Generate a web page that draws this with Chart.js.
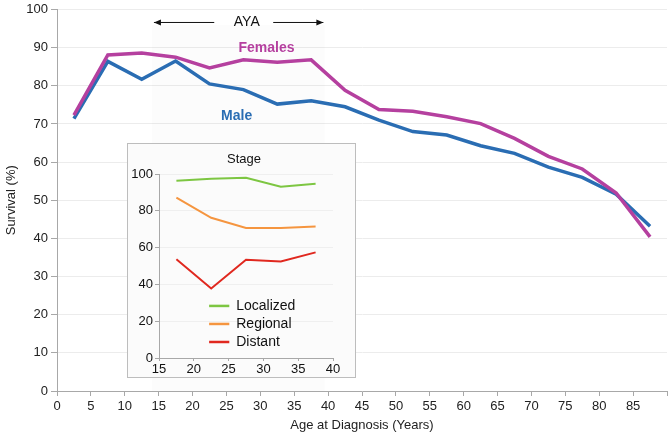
<!DOCTYPE html>
<html>
<head>
<meta charset="utf-8">
<script src="https://cdn.jsdelivr.net/npm/chart.js@4.4.0/dist/chart.umd.min.js"></script>
<style>
html, body { margin: 0; padding: 0; background: #fff; }
#wrap { position: relative; width: 670px; height: 437px; }
#inset { position: absolute; left: 127px; top: 143px; width: 229px; height: 235px; border: 1px solid #bdbdbd; background: #fbfbfb; box-sizing: border-box; }
</style>
</head>
<body>
<div id="wrap">
  <canvas id="mainChart" width="670" height="437"></canvas>
  <div id="inset"><canvas id="insetChart" width="227" height="233"></canvas></div>
</div>
<script>
// main chart data
const ageMid = [2.5, 7.5, 12.5, 17.5, 22.5, 27.5, 32.5, 37.5, 42.5, 47.5, 52.5, 57.5, 62.5, 67.5, 72.5, 77.5, 82.5, 87.5];
const females = [72.3, 88.1, 88.6, 87.5, 84.7, 86.8, 86.2, 86.8, 78.8, 73.8, 73.3, 71.9, 70.1, 66.2, 61.5, 58.2, 51.9, 40.4];
const males = [71.4, 86.4, 81.7, 86.5, 80.5, 79.0, 75.2, 76.1, 74.5, 71.0, 68.0, 67.1, 64.3, 62.3, 58.7, 56.0, 51.6, 43.2];

// inset data (AYA by stage)
const stageAges = [17.5, 22.5, 27.5, 32.5, 37.5];
const localized = [96.3, 97.4, 98.0, 93.1, 94.7];
const regional = [87.2, 76.2, 70.7, 70.7, 71.5];
const distant = [53.7, 37.8, 53.4, 52.5, 57.4];

const FONT = 'Liberation Sans, Arial, Helvetica, sans-serif';
const pts = (xs, ys) => xs.map((x, i) => ({ x: x, y: ys[i] }));

// text labels + AYA arrows on the main chart
const mainNotes = {
    id: 'mainNotes',
    beforeDatasetsDraw(chart) {
        const { ctx, scales: { x, y } } = chart;
        ctx.save();
        ctx.fillStyle = 'rgba(0,0,0,0.012)';
        ctx.fillRect(x.getPixelForValue(14), y.getPixelForValue(96), x.getPixelForValue(39.5) - x.getPixelForValue(14), y.getPixelForValue(0) - y.getPixelForValue(96));
        ctx.restore();
    },
    afterDatasetsDraw(chart) {
        const { ctx, scales: { x, y } } = chart;
        ctx.save();
        ctx.textAlign = 'center';
        ctx.textBaseline = 'middle';
        ctx.font = 'bold 14px ' + FONT;
        ctx.fillStyle = '#b5409f';
        ctx.fillText('Females', x.getPixelForValue(30.9), y.getPixelForValue(89.8));
        ctx.fillStyle = '#2a6db3';
        ctx.fillText('Male', x.getPixelForValue(26.5), y.getPixelForValue(72.1));
        ctx.font = '14px ' + FONT;
        ctx.fillStyle = '#111';
        const ay = y.getPixelForValue(96.6);
        ctx.fillText('AYA', x.getPixelForValue(28), ay);
        ctx.strokeStyle = '#111';
        ctx.lineWidth = 1;
        const arrow = (from, to) => {
            const x0 = x.getPixelForValue(from), x1 = x.getPixelForValue(to);
            const d = x1 > x0 ? 1 : -1;
            ctx.beginPath();
            ctx.moveTo(x0, ay); ctx.lineTo(x1, ay); ctx.stroke();
            ctx.beginPath();
            ctx.moveTo(x1, ay); ctx.lineTo(x1 - d * 7, ay - 3); ctx.lineTo(x1 - d * 7, ay + 3);
            ctx.closePath(); ctx.fill();
        };
        arrow(23.2, 14.3);
        arrow(31.9, 39.3);
        ctx.restore();
    }
};

new Chart(document.getElementById('mainChart'), {
    type: 'line',
    data: {
        datasets: [
            { label: 'Females', data: pts(ageMid, females), borderColor: '#b5409f', borderWidth: 3.5, pointRadius: 0, tension: 0 },
            { label: 'Male', data: pts(ageMid, males), borderColor: '#2a6db3', borderWidth: 3.5, pointRadius: 0, tension: 0 }
        ]
    },
    options: {
        responsive: false,
        animation: false,
        layout: { padding: { top: 7, right: 2, left: 0, bottom: 0 } },
        plugins: { legend: { display: false }, tooltip: { enabled: false } },
        scales: {
            x: {
                type: 'linear', min: 0, max: 90,
                afterFit: s => { s.height = 46; },
                border: { color: '#a8a8a8' },
                grid: { drawOnChartArea: false, tickLength: 5, tickColor: '#a8a8a8' },
                ticks: { stepSize: 5, color: '#222', font: { family: FONT, size: 13 }, padding: 3, maxRotation: 0,
                    callback: v => v === 90 ? '' : v },
                title: { display: true, text: 'Age at Diagnosis (Years)', color: '#222', font: { family: FONT, size: 13 }, padding: { top: 5 } }
            },
            y: {
                min: 0, max: 100,
                afterFit: s => { s.width = 57; },
                border: { color: '#a8a8a8' },
                grid: { color: '#ececec', tickLength: 6, tickColor: '#a8a8a8' },
                ticks: { stepSize: 10, color: '#222', font: { family: FONT, size: 13, lineHeight: 1 }, padding: 3 },
                title: { display: true, text: 'Survival (%)', color: '#222', font: { family: FONT, size: 13 }, padding: { top: 4, bottom: 4 } }
            }
        }
    },
    plugins: [mainNotes]
});

// inset title + legend
const insetNotes = {
    id: 'insetNotes',
    afterDatasetsDraw(chart) {
        const { ctx, chartArea, scales: { x, y } } = chart;
        ctx.save();
        ctx.fillStyle = '#111';
        ctx.font = '13px ' + FONT;
        ctx.textAlign = 'center';
        ctx.textBaseline = 'middle';
        ctx.fillText('Stage', (chartArea.left + chartArea.right) / 2 - 2, chartArea.top - 15);
        ctx.textAlign = 'left';
        ctx.font = '14px ' + FONT;
        chart.data.datasets.forEach((ds, i) => {
            const ly = y.getPixelForValue(28.3 - i * 9.8);
            ctx.strokeStyle = ds.borderColor;
            ctx.lineWidth = 2.5;
            ctx.beginPath();
            ctx.moveTo(x.getPixelForValue(22.2), ly);
            ctx.lineTo(x.getPixelForValue(25.1), ly);
            ctx.stroke();
            ctx.fillStyle = '#111';
            ctx.fillText(ds.label, x.getPixelForValue(26.1), ly);
        });
        ctx.restore();
    }
};

new Chart(document.getElementById('insetChart'), {
    type: 'line',
    data: {
        datasets: [
            { label: 'Localized', data: pts(stageAges, localized), borderColor: '#7dc642', borderWidth: 2, pointRadius: 0, tension: 0 },
            { label: 'Regional', data: pts(stageAges, regional), borderColor: '#f5953f', borderWidth: 2, pointRadius: 0, tension: 0 },
            { label: 'Distant', data: pts(stageAges, distant), borderColor: '#e0281f', borderWidth: 2, pointRadius: 0, tension: 0 }
        ]
    },
    options: {
        responsive: false,
        animation: false,
        layout: { padding: { top: 30, right: 22, left: 0, bottom: 0 } },
        plugins: { legend: { display: false }, tooltip: { enabled: false } },
        scales: {
            x: {
                type: 'linear', min: 15, max: 40,
                afterFit: s => { s.height = 19; },
                border: { color: '#a8a8a8' },
                grid: { drawOnChartArea: false, tickLength: 3, tickColor: '#a8a8a8' },
                ticks: { stepSize: 5, color: '#111', font: { family: FONT, size: 13 }, padding: 1, maxRotation: 0 }
            },
            y: {
                min: 0, max: 100,
                afterFit: s => { s.width = 31; },
                border: { color: '#a8a8a8' },
                grid: { color: '#efefef', tickLength: 4, tickColor: '#a8a8a8' },
                ticks: { stepSize: 20, color: '#111', font: { family: FONT, size: 13 }, padding: 2 }
            }
        }
    },
    plugins: [insetNotes]
});
</script>
</body>
</html>
